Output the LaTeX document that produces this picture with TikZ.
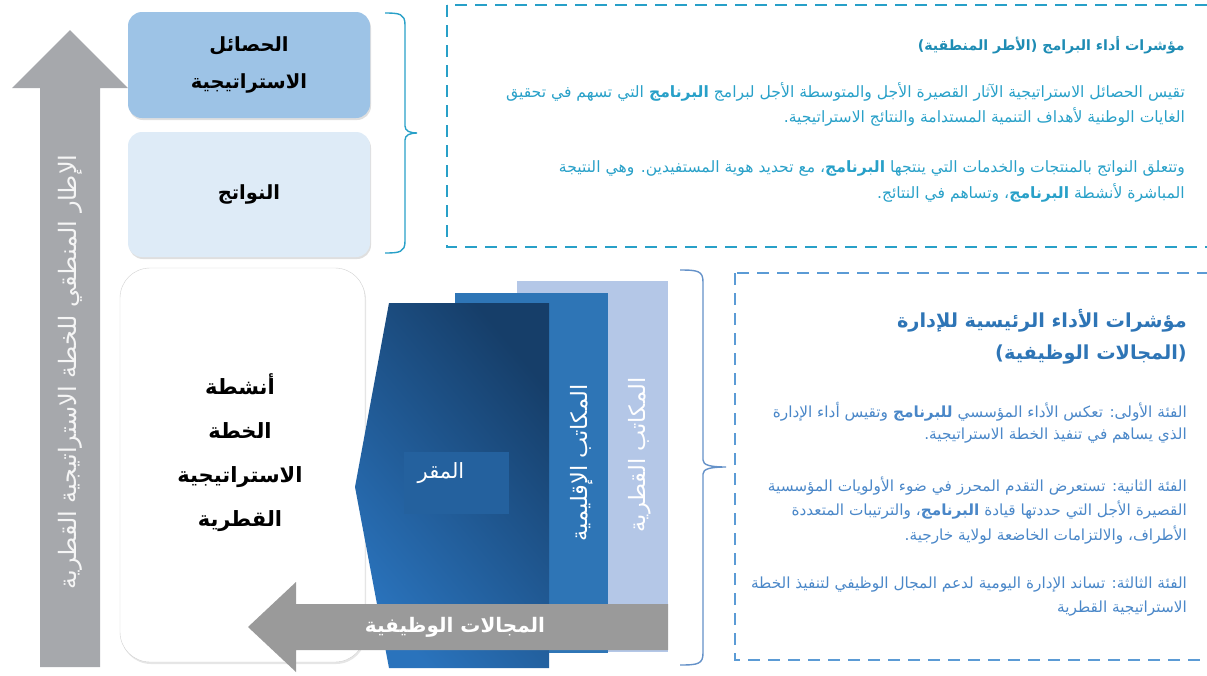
\documentclass[tikz,border=0pt]{standalone}
\usepackage{fontspec}
\setmainfont{DejaVu Sans}
\newfontfamily\ar[Script=Arabic]{DejaVu Sans}
\TeXXeTstate=1
\usetikzlibrary{shadows}
\definecolor{tealL}{RGB}{40,160,200}
\definecolor{tealT}{RGB}{30,140,180}
\definecolor{blueD}{RGB}{91,155,213}
\definecolor{blueT}{RGB}{46,117,182}
\definecolor{blueB}{RGB}{74,135,200}
\definecolor{brk}{RGB}{100,145,200}
\definecolor{boxA}{RGB}{157,195,230}
\definecolor{boxB}{RGB}{222,235,247}
\definecolor{grayA}{RGB}{166,168,172}
\definecolor{grayB}{RGB}{154,154,154}
\definecolor{lightR}{RGB}{180,199,231}
\definecolor{midR}{RGB}{46,117,182}
\definecolor{frontA}{RGB}{22,62,105}
\definecolor{frontB}{RGB}{42,115,188}
\definecolor{hqC}{RGB}{36,97,158}
\tikzset{
  levelbox/.style={rounded corners=14pt, minimum width=242pt, align=center,
    font=\ar\bfseries\fontsize{19.5}{37}\selectfont,
    drop shadow={opacity=0.25, shadow xshift=1pt, shadow yshift=-2pt}},
  tline/.style={anchor=east, inner sep=0pt, text=tealL, font=\ar\fontsize{15.6}{17}\selectfont},
  bline/.style={anchor=east, inner sep=0pt, text=blueB, font=\ar\fontsize{15.3}{17}\selectfont},
  vtext/.style={rotate=90, inner sep=0pt},
  dbox/.style={line width=2.6pt, dash pattern=on 12pt off 8pt},
}
\begin{document}
\begin{tikzpicture}[x=1pt,y=-1pt]
\useasboundingbox (0,0) rectangle (1207,675);
% vertical grey arrow
\fill[grayA] (40,667) -- (40,88) -- (12,88) -- (70,30) -- (128,88) -- (100,88) -- (100,667) -- cycle;
\node[vtext, text=white!92!gray, font=\ar\fontsize{24}{26}\selectfont] (frame) at (70,372)
  {\beginR الإطار المنطقي للخطة الاستراتيجية القطرية\endR};
% level boxes
\node[levelbox, fill=boxA, minimum height=106pt] (outcomes) at (249,65)
  {\beginR الحصائل\endR\\\beginR الاستراتيجية\endR};
\node[levelbox, fill=boxB, minimum height=125pt] (outputs) at (249,194.5)
  {\beginR النواتج\endR};
\node[rounded corners=30pt, draw=gray!35, fill=white, minimum width=245pt, minimum height=394pt,
  drop shadow={opacity=0.2, shadow xshift=1pt, shadow yshift=-2pt}] (acts) at (242.5,465) {};
\node[align=center, font=\ar\bfseries\fontsize{21}{44}\selectfont] (actstext) at (240,453)
  {\beginR أنشطة\endR\\\beginR الخطة\endR\\\beginR الاستراتيجية\endR\\\beginR القطرية\endR};
% stacked offices
\fill[lightR] (517,281) rectangle (668,652);
\fill[midR] (455,293) rectangle (608,653);
\shade[top color=frontA, bottom color=frontB, shading angle=-50]
  (389,303) -- (549,303) -- (549,668) -- (389,668) -- (355,487) -- cycle;
\node[fill=hqC, minimum width=105pt, minimum height=62pt, inner sep=0pt] (hq) at (456.5,483) {};
\node[text=white, font=\ar\fontsize{21}{23}\selectfont] (hqtext) at (441,473) {\beginR المقر\endR};
\node[vtext, text=white, font=\ar\fontsize{22.5}{24}\selectfont] (regional) at (582,463)
  {\beginR المكاتب الإقليمية\endR};
\node[vtext, text=white, font=\ar\fontsize{22.5}{24}\selectfont] (country) at (640,455)
  {\beginR المكاتب القطرية\endR};
% horizontal grey arrow
\fill[grayB] (668,604) -- (296,604) -- (296,582) -- (248,627) -- (296,672) -- (296,650) -- (668,650) -- cycle;
\node[text=white, font=\ar\bfseries\fontsize{20}{22}\selectfont] (func) at (455,627)
  {\beginR المجالات الوظيفية\endR};
% brackets
\draw[tealL, line width=1.4pt] (385,13) .. controls (400,13) and (405,14) .. (405,25) -- (405,126)
  .. controls (405,131) and (410,133) .. (417,133) .. controls (410,133) and (405,135) .. (405,140)
  -- (405,241) .. controls (405,252) and (400,253) .. (385,253);
\draw[brk, line width=1.4pt] (680,270) .. controls (698,270) and (703,271) .. (703,282) -- (703,460)
  .. controls (703,465) and (710,467) .. (726,467) .. controls (710,467) and (703,469) .. (703,474)
  -- (703,653) .. controls (703,664) and (698,665) .. (680,665);
% dashed boxes
\draw[tealL, dbox] (447,5) rectangle (1215,247);
\draw[blueD, dbox] (735,273) rectangle (1215,660);
% top box text
\node[tline, text=tealT, font=\ar\bfseries\fontsize{14.2}{16}\selectfont] (t0) at (1185,45)
  {\beginR مؤشرات أداء البرامج (الأطر المنطقية)\endR};
\node[tline] (t1) at (1185,92)
  {\beginR تقيس الحصائل الاستراتيجية الآثار القصيرة الأجل والمتوسطة الأجل لبرامج {\bfseries البرنامج} التي تسهم في تحقيق\endR};
\node[tline] (t2) at (1185,117)
  {\beginR الغايات الوطنية لأهداف التنمية المستدامة والنتائج الاستراتيجية.\endR};
\node[tline] (t3) at (1185,168)
  {\beginR وتتعلق النواتج بالمنتجات والخدمات التي ينتجها {\bfseries البرنامج}، مع تحديد هوية المستفيدين. وهي النتيجة\endR};
\node[tline] (t4) at (1185,193)
  {\beginR المباشرة لأنشطة {\bfseries البرنامج}، وتساهم في النتائج.\endR};
% lower box text
\node[bline, text=blueT, font=\ar\bfseries\fontsize{19.3}{21}\selectfont] (k0) at (1187,321)
  {\beginR مؤشرات الأداء الرئيسية للإدارة\endR};
\node[bline, text=blueT, font=\ar\bfseries\fontsize{19.3}{21}\selectfont] (k1) at (1187,355)
  {\beginR (المجالات الوظيفية)\endR};
\node[bline] (k2) at (1187,412)
  {\beginR الفئة الأولى: تعكس الأداء المؤسسي {\bfseries للبرنامج} وتقيس أداء الإدارة\endR};
\node[bline] (k3) at (1187,436)
  {\beginR الذي يساهم في تنفيذ الخطة الاستراتيجية.\endR};
\node[bline] (k4) at (1187,486)
  {\beginR الفئة الثانية: تستعرض التقدم المحرز في ضوء الأولويات المؤسسية\endR};
\node[bline] (k5) at (1187,510)
  {\beginR القصيرة الأجل التي حددتها قيادة {\bfseries البرنامج}، والترتيبات المتعددة\endR};
\node[bline] (k6) at (1187,535)
  {\beginR الأطراف، والالتزامات الخاضعة لولاية خارجية.\endR};
\node[bline] (k7) at (1187,585)
  {\beginR الفئة الثالثة: تساند الإدارة اليومية لدعم المجال الوظيفي لتنفيذ الخطة\endR};
\node[bline] (k8) at (1187,609)
  {\beginR الاستراتيجية القطرية\endR};
\end{tikzpicture}
\end{document}
